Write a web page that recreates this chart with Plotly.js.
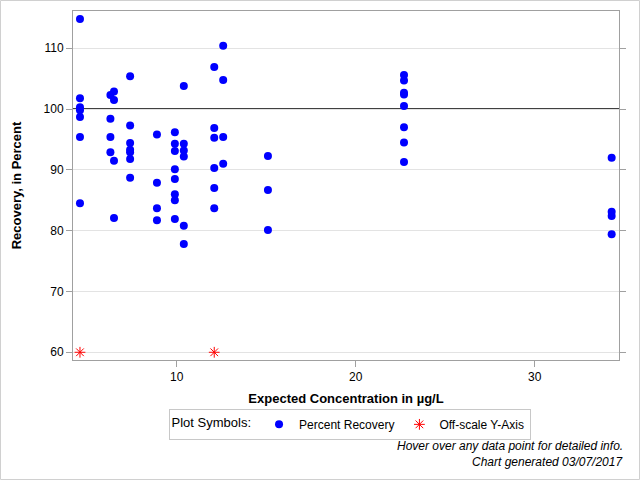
<!DOCTYPE html>
<html>
<head>
<meta charset="utf-8">
<script src="https://cdn.plot.ly/plotly-3.0.1.min.js"></script>
<style>html,body{margin:0;padding:0;background:#fff;}#chart{width:640px;height:480px;}</style>
</head>
<body>
<div id="chart"></div>
<script>
// Expected concentration (µg/L) and percent recovery
const concentration = [
  4.6,4.6,4.6,4.6,4.6,4.6,4.6,
  6.3,6.3,6.3,6.3,
  6.5,6.5,6.5,6.5,
  7.4,7.4,7.4,7.4,7.4,7.4,7.4,
  8.9,8.9,8.9,8.9,
  9.9,9.9,9.9,9.9,9.9,9.9,9.9,9.9,
  10.4,10.4,10.4,10.4,10.4,10.4,
  12.1,12.1,12.1,12.1,12.1,12.1,
  12.6,12.6,12.6,12.6,
  15.1,15.1,15.1,
  22.7,22.7,22.7,22.7,22.7,22.7,22.7,22.7,
  34.3,34.3,34.3,34.3
];
const recovery = [
  114.8,101.8,100.3,99.8,98.7,95.4,84.5,
  102.3,98.4,95.4,92.9,
  102.9,101.5,91.5,82.1,
  105.4,97.3,94.4,93.3,92.9,91.8,88.7,
  95.8,87.9,83.7,81.7,
  96.2,94.3,93.1,90.1,88.5,86.0,85.0,81.9,
  103.8,94.3,93.2,92.2,80.8,77.8,
  106.9,96.9,95.3,90.3,87.0,83.7,
  110.4,104.8,95.4,91.0,
  92.3,86.7,80.1,
  105.6,104.7,102.7,102.4,100.5,97.0,94.5,91.3,
  92.0,83.1,82.4,79.4
];
// Off-scale points, drawn at the bottom of the y-axis
const offscaleConcentration = [4.6, 12.1];
const offscaleShownAt = [60, 60];

const yTicks = [60, 70, 80, 90, 100, 110];
const xTicks = [10, 20, 30];
const referenceRecovery = 100;
const xRange = [4.21, 34.71];
const yRange = [58.73, 116.13];

const font = '"Liberation Sans", Arial, sans-serif';

const traces = [
  {
    type: 'scatter', mode: 'markers', name: 'Percent Recovery',
    x: concentration, y: recovery,
    marker: {color: '#0000ff', size: 8, symbol: 'circle'},
    hovertemplate: 'Concentration: %{x}<br>Recovery: %{y}%<extra></extra>'
  },
  {
    type: 'scatter', mode: 'markers', name: 'Off-scale Y-Axis',
    x: offscaleConcentration, y: offscaleShownAt,
    marker: {color: '#ff0000', size: 9, symbol: 'asterisk-open', line: {color: '#ff0000', width: 1}},
    hovertemplate: 'Concentration: %{x}<br>Off-scale<extra></extra>'
  }
];

const layout = {
  width: 640, height: 480,
  margin: {l: 73, r: 21, t: 11, b: 120},
  paper_bgcolor: '#ffffff', plot_bgcolor: '#ffffff',
  font: {family: font, size: 12, color: '#000'},
  showlegend: true,
  hovermode: 'closest',
  xaxis: {
    range: xRange,
    tickvals: xTicks,
    ticks: 'outside', ticklen: 6, tickcolor: '#a0a0a0',
    showline: true, linecolor: '#a0a0a0', linewidth: 1, mirror: true,
    showgrid: false, zeroline: false,
    tickfont: {size: 12, color: '#000'},
    title: {text: 'Expected Concentration in µg/L', font: {size: 13, color: '#000', weight: 'bold'}, standoff: 10}
  },
  yaxis: {
    range: yRange,
    tickvals: yTicks,
    ticks: 'outside', ticklen: 6, tickcolor: '#a0a0a0',
    showline: true, linecolor: '#a0a0a0', linewidth: 1, mirror: 'ticks',
    showgrid: true, gridcolor: '#e3e3e3', gridwidth: 1, zeroline: false,
    tickfont: {size: 12, color: '#000'},
    title: {text: 'Recovery, in Percent', font: {size: 13, color: '#000', weight: 'bold'}, standoff: 19}
  },
  legend: {
    orientation: 'h', x: 0.175, xanchor: 'left', y: -0.14, yanchor: 'top',
    bordercolor: '#c8c8c8', borderwidth: 1, bgcolor: '#ffffff',
    font: {size: 12, color: '#000'},
    title: {text: 'Plot Symbols:', side: 'left', font: {size: 13, color: '#000'}},
    itemwidth: 30, tracegroupgap: 0
  },
  shapes: [
    {type: 'line', xref: 'x', x0: xRange[0], x1: xRange[1], yref: 'y', y0: referenceRecovery, y1: referenceRecovery,
     line: {color: '#000000', width: 1.5}, layer: 'below'},
    {type: 'rect', xref: 'paper', yref: 'paper',
     x0: (0.5 - 73) / 546, x1: (639.5 - 73) / 546, y0: (360 - 479.5) / 349, y1: (360 - 0.5) / 349,
     line: {color: '#d0d0d0', width: 1}, fillcolor: 'rgba(0,0,0,0)', layer: 'below'}
  ],
  annotations: [
    {xref: 'paper', yref: 'paper', x: (625 - 73) / 546, y: (360 - 446) / 349, xanchor: 'right', yanchor: 'middle',
     text: '<i>Hover over any data point for detailed info.</i>', showarrow: false, font: {size: 12, color: '#000'}},
    {xref: 'paper', yref: 'paper', x: (625 - 73) / 546, y: (360 - 462) / 349, xanchor: 'right', yanchor: 'middle',
     text: '<i>Chart generated 03/07/2017</i>', showarrow: false, font: {size: 12, color: '#000'}}
  ]
};

Plotly.newPlot('chart', traces, layout, {displayModeBar: false, responsive: false});
</script>
</body>
</html>
